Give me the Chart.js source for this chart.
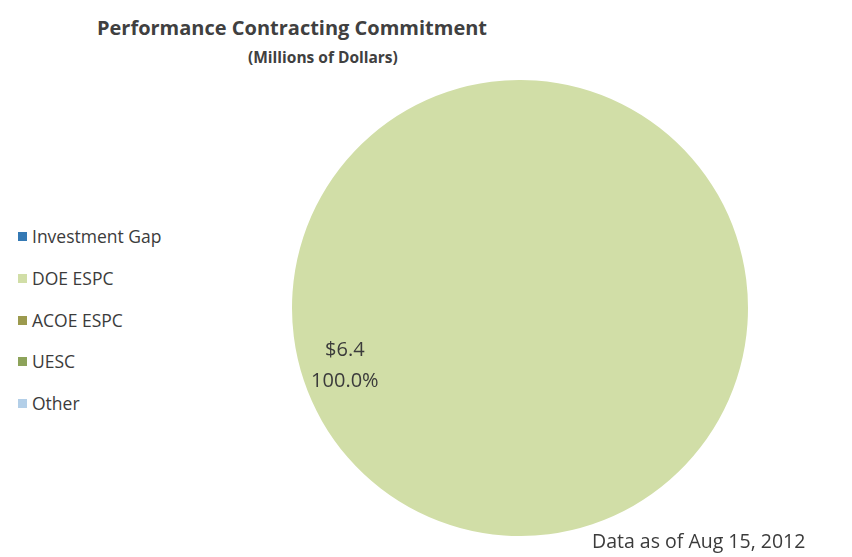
<!DOCTYPE html>
<html>
<head>
<meta charset="utf-8">
<script src="https://cdn.jsdelivr.net/npm/chart.js@4.4.0/dist/chart.umd.min.js"></script>
<style>
  body { margin: 0; background: #fff; font-family: "Open Sans", sans-serif; color: #3b3b3b; }
  #wrap { position: relative; width: 852px; height: 557px; overflow: hidden; }
  #title { position: absolute; left: 0; width: 584px; top: 14px; text-align: center; font-weight: bold; font-size: 20px; color: #404040; }
  #subtitle { position: absolute; left: 248px; top: 46px; font-weight: bold; font-size: 15.5px; color: #404040; }
  #pieBox { position: absolute; left: 289px; top: 80px; width: 462px; height: 456px; }
  #legend { position: absolute; left: 18px; top: 223px; }
  .item { height: 41.8px; line-height: 26px; font-size: 17.5px; white-space: nowrap; }
  .sw { display: inline-block; width: 9px; height: 9px; margin-right: 5px; vertical-align: 2px; }
  #note { position: absolute; left: 592px; top: 527px; font-size: 19.5px; }
</style>
</head>
<body>
<div id="wrap">
  <div id="title">Performance Contracting Commitment</div>
  <div id="subtitle">(Millions of Dollars)</div>
  <div id="legend"></div>
  <div id="pieBox"><canvas id="pie"></canvas></div>
  <div id="note">Data as of Aug 15, 2012</div>
</div>
<script>
// commitment by contract type, millions of dollars
const categories = ['Investment Gap', 'DOE ESPC', 'ACOE ESPC', 'UESC', 'Other'];
const amounts = [0, 6.4, 0, 0, 0];
const colors = ['#3479b4', '#d1dea7', '#9c9a4e', '#8da35a', '#b3cfe8'];

// legend
const legend = document.getElementById('legend');
categories.forEach((c, i) => {
    const row = document.createElement('div');
    row.className = 'item';
    row.innerHTML = '<span class="sw" style="background:' + colors[i] + '"></span>' + c;
    legend.appendChild(row);
});

const total = amounts.reduce((a, b) => a + b, 0);

// value / percent label inside each non-empty slice
const sliceLabels = {
    id: 'sliceLabels',
    afterDatasetsDraw(chart) {
        const ctx = chart.ctx;
        const meta = chart.getDatasetMeta(0);
        ctx.save();
        ctx.font = '20px "Open Sans"';
        ctx.fillStyle = '#3b3b3b';
        ctx.textAlign = 'center';
        ctx.textBaseline = 'middle';
        meta.data.forEach((arc, i) => {
            if (!amounts[i]) return;
            const p = arc.getProps(['x', 'y', 'startAngle', 'endAngle', 'outerRadius']);
            const mid = (p.startAngle + p.endAngle) / 2;
            const r = p.outerRadius * 0.81;
            const x = p.x + Math.cos(mid) * r;
            const y = p.y + Math.sin(mid) * r;
            ctx.fillText('$' + amounts[i].toFixed(1), x, y - 16);
            ctx.fillText((amounts[i] / total * 100).toFixed(1) + '%', x, y + 15);
        });
        ctx.restore();
    }
};

new Chart(document.getElementById('pie'), {
    type: 'pie',
    data: {
        labels: categories,
        datasets: [{
            data: amounts,
            backgroundColor: colors,
            borderWidth: 0
        }]
    },
    options: {
        responsive: true,
        maintainAspectRatio: false,
        animation: false,
        rotation: 71.5,
        layout: { padding: 0 },
        plugins: {
            legend: { display: false },
            tooltip: { enabled: false }
        }
    },
    plugins: [sliceLabels]
});
</script>
</body>
</html>
